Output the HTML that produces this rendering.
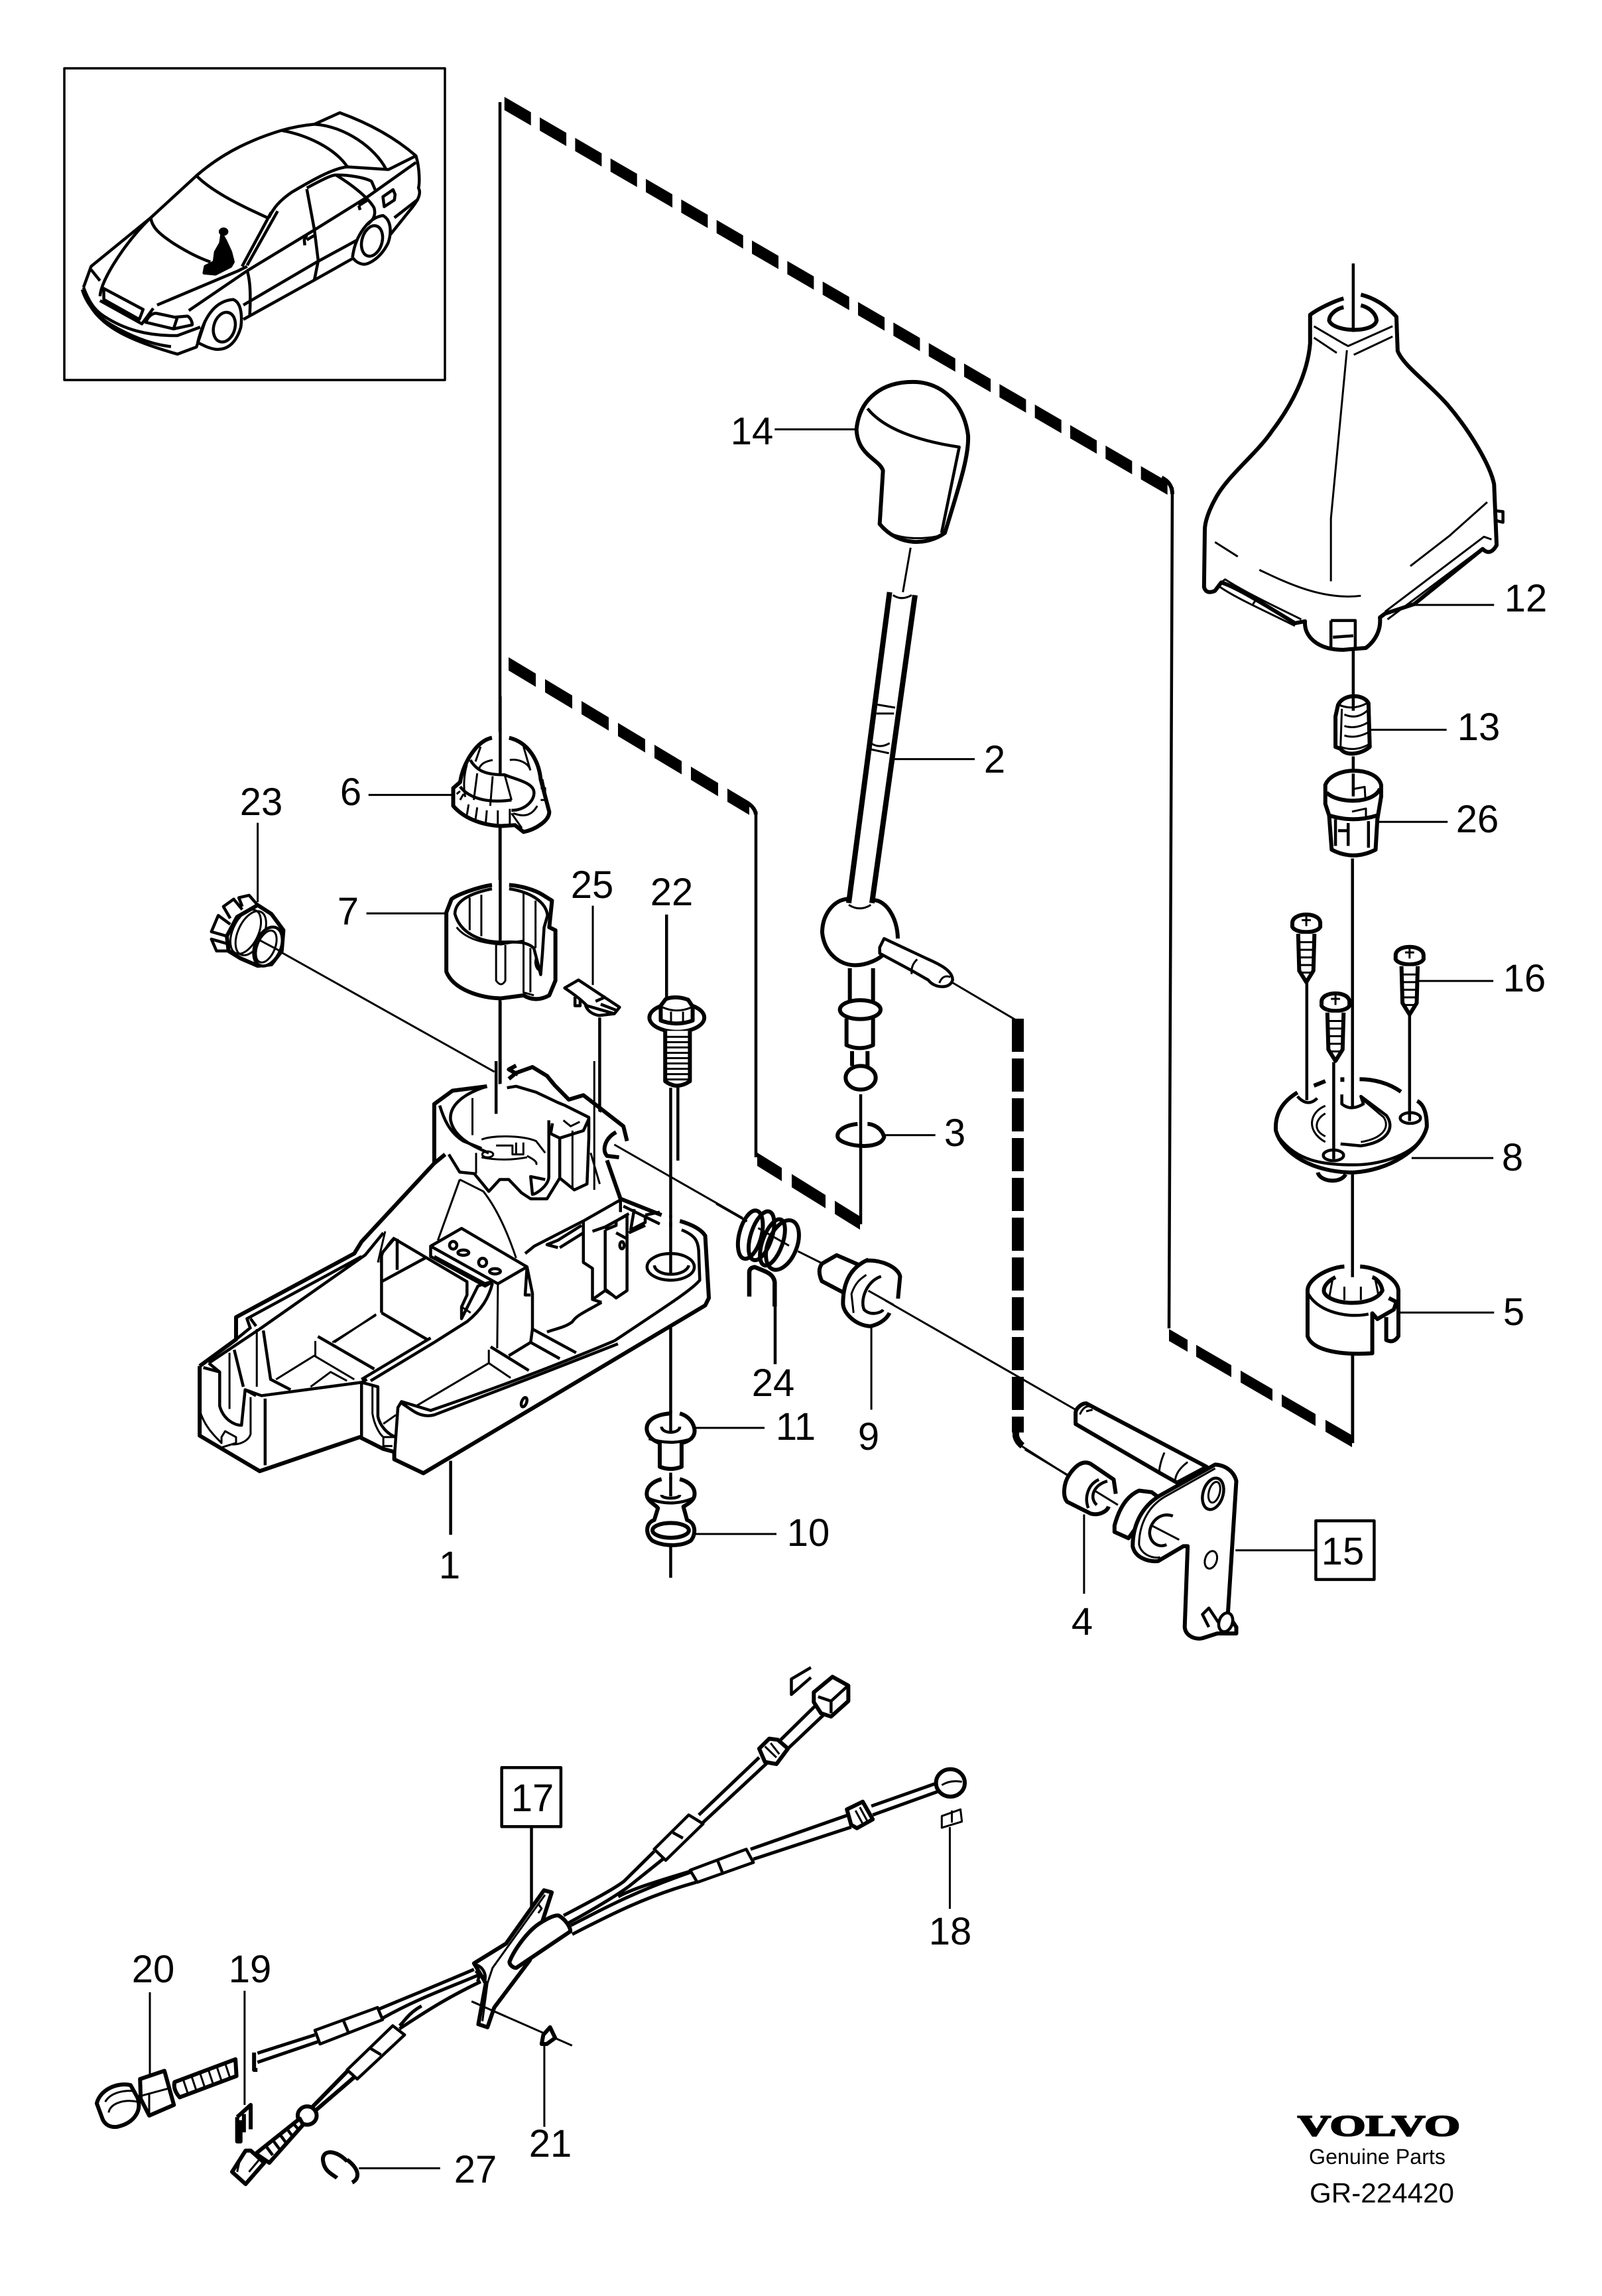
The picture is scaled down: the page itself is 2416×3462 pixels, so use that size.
<!DOCTYPE html>
<html><head><meta charset="utf-8"><style>
html,body{margin:0;padding:0;background:#fff}
svg{display:block}
svg *{vector-effect:non-scaling-stroke}
path,line,ellipse,rect{fill:none;stroke:#000;stroke-width:4.5;stroke-linejoin:round}
.t{stroke-width:3}
.k{stroke-width:6}
.w{fill:#fff}
.b{fill:#000}
svg .d{vector-effect:none;stroke-linejoin:miter}
text{font-family:"Liberation Sans",sans-serif;font-size:58px;fill:#000;text-anchor:middle}
</style></head><body>
<svg xmlns="http://www.w3.org/2000/svg" width="2416" height="3462" viewBox="0 0 2416 3462">
<rect x="0" y="0" width="2416" height="3462" style="fill:#fff;stroke:none"/>
<!-- inset frame -->
<rect x="97" y="103" width="574" height="470" style="stroke-width:3.5"/>
<!-- dashed lines -->
<path class="d" transform="matrix(1 .58 0 1 752 151)" d="M0 0 H1016" style="stroke-width:20;stroke-dasharray:40 13.33;stroke-dashoffset:44.6"/>
<path class="k" d="M1752 720 Q1768 728 1768 745"/>
<path class="d" transform="matrix(1 .6 0 1 752 992)" d="M0 0 H378" style="stroke-width:20;stroke-dasharray:41 14;stroke-dashoffset:40"/>
<path class="k" d="M1118 1206 Q1138 1214 1140 1228"/>
<path class="d" transform="matrix(1 .62 0 1 1142 1748)" d="M0 0 H155" style="stroke-width:20;stroke-dasharray:37 15 51 14 40 100"/>
<path class="d" style="stroke-width:18;stroke-dasharray:50 10" d="M1535 1536 L1535 2160"/>
<path class="k" style="stroke-width:10" d="M1532 2150 L1532 2165 Q1534 2174 1542 2180"/>
<path class="d" transform="matrix(1 .58 0 1 1763 2013)" d="M0 0 H276" style="stroke-width:18;stroke-dasharray:28 13 53 14 48 14 51 15 40 100"/>
<!-- thin frame lines -->
<path d="M754 154 L754 1679"/>
<path d="M1768 735 L1763 2003"/>
<path d="M1140 1223 L1140 1745"/>
<path d="M1298 1650 L1298 1846"/>
<path d="M2040 2040 L2040 2176"/>
<path class="t" d="M1540 2180 L1609 2224"/>
<path class="t" d="M1437 1482 L1532 1538"/>

<!-- car -->
<g transform="translate(80 80) scale(.3827 .3333)">
<path d="M120 1060 L150 965 L385 745 L565 555 C680 440 800 385 900 350 C960 330 1000 325 1030 322 L1130 270 C1250 320 1350 385 1430 465 L1322 527 L1160 515 C1100 520 1000 590 940 630 C890 670 870 700 850 745"/>
<path d="M385 745 C390 790 420 820 480 865 C530 900 570 925 620 945"/>
<path d="M565 555 C620 620 720 680 845 745"/>
<path d="M900 350 C1000 370 1110 430 1160 515"/>
<path d="M1030 322 C1150 330 1270 430 1312 525"/>
<path d="M860 720 L745 965 M885 715 L765 960"/>
<path d="M1000 610 C1050 580 1090 555 1110 552 C1170 550 1230 565 1255 580 L1270 620"/>
<path d="M1115 552 C1170 590 1240 650 1265 700 C1275 740 1255 760 1240 775"/>
<path d="M765 985 L1030 800 L1240 650 L1430 495"/>
<path d="M1000 615 L1030 800 L1045 940 L1030 1025"/>
<path d="M765 985 C780 1040 778 1120 775 1190"/>
<path d="M750 1140 L1040 945 L1200 845"/>
<path d="M750 1205 L1025 1030 L1180 930"/>
<path d="M410 1140 L730 985 L765 965"/>
<path d="M535 1165 L765 985"/>
<path d="M385 745 C290 850 190 1020 185 1100"/>
<path d="M150 980 L185 1030"/>
<path d="M120 1060 C140 1120 160 1160 200 1190 C280 1250 370 1280 490 1278 L580 1240"/>
<path d="M115 1070 C130 1130 170 1190 230 1230 C320 1290 400 1320 465 1328"/>
<path d="M150 1150 C200 1240 300 1300 490 1362 L565 1330 L600 1210"/>
<path d="M200 1065 L355 1160 L340 1205 L200 1115 Z"/>
<path d="M185 1120 L350 1225 L395 1155"/>
<path d="M365 1218 C380 1180 400 1175 410 1178 L480 1195 L530 1190 C545 1200 550 1225 548 1230 L475 1248 Z M490 1195 L475 1248"/>
<ellipse cx="675" cy="1240" rx="42" ry="68" transform="rotate(12 675 1240)"/>
<path d="M570 1310 C600 1170 650 1120 710 1115 C745 1130 745 1200 740 1240 C720 1320 680 1345 640 1340 C610 1335 590 1320 570 1310"/>
<ellipse cx="1257" cy="850" rx="40" ry="70" transform="rotate(12 1257 850)"/>
<path d="M1180 925 C1190 830 1240 745 1300 735 C1340 760 1330 830 1320 860 C1290 930 1240 960 1220 955 C1200 950 1190 940 1180 925"/>
<path d="M1430 465 C1445 520 1445 590 1440 610 C1455 640 1430 680 1400 720 L1330 820"/>
<path d="M1345 745 L1440 660"/>
<path d="M1000 845 L1030 825 M1000 825 L990 845 L992 870 M1205 690 L1240 665 M1205 690 L1210 710"/>
<path d="M1300 650 L1340 618 L1348 640 L1345 665 L1305 695 Z"/>
<ellipse class="b" cx="672" cy="808" rx="13" ry="12"/>
<path class="b" d="M665 820 L660 860 L640 900 L635 945 L600 965 L595 995 L640 1000 L700 965 L710 945 L700 900 L680 850 Z"/>
</g>

<!-- shift lever 14, 2, 3 -->
<g transform="translate(1100 500) scale(.3333 .8929)">
<path class="t" d="M205 165 L575 165 M745 722 L1110 722 M705 1357 L932 1357 M820 365 L785 440"/>
<path class="k w" d="M575 165 C590 110 700 85 830 85 C960 85 1060 120 1080 175 C1085 210 1040 260 975 340 C900 360 770 365 680 325 L695 235 C680 215 580 210 575 165 Z"/>
<path d="M625 130 C700 165 860 185 1040 195 L960 340"/>
<path class="t" d="M700 335 C760 350 860 352 950 345"/>
<path class="k" style="stroke-width:8" d="M725 440 L540 965 M840 445 L645 965"/>
<path class="t" d="M740 445 Q780 455 825 445 M670 630 L750 635 M665 645 L745 645 M640 695 Q680 705 725 695 M635 705 L722 712 M540 968 Q590 980 640 968"/>
<path class="k" d="M535 958 C470 960 420 985 420 1015 C430 1050 500 1070 570 1070 C620 1070 680 1060 700 1050"/>
<path class="k" d="M650 960 C710 960 760 990 762 1025"/>
<path class="w" d="M680 1040 L700 1025 L900 1060 C960 1070 1010 1080 1010 1095 C1000 1110 930 1110 900 1095 L830 1080 L680 1050 Z"/>
<path class="t" d="M850 1060 Q820 1070 825 1085 M950 1100 Q965 1085 1000 1090"/>
<path class="k" d="M545 1075 L545 1130 M650 1075 L650 1130"/>
<ellipse class="k w" cx="592" cy="1145" rx="92" ry="16"/>
<path class="k" d="M530 1160 L530 1205 Q590 1215 650 1205 L650 1160 M555 1215 L555 1240 M625 1215 L625 1240"/>
<ellipse class="k w" cx="594" cy="1260" rx="68" ry="20"/>
<path class="k" d="M580 1338 C520 1340 485 1350 490 1360 C500 1375 680 1385 700 1360 C690 1345 650 1338 625 1338"/>
</g>

<!-- shroud 12, 13, 26 -->
<g transform="translate(1750 380) scale(.3827 .574)">
<path class="k w" d="M722 122 C680 130 620 150 590 165 L590 240 C580 320 520 400 440 470 C380 530 260 590 215 650 C190 680 175 710 175 730 L172 880 Q180 900 215 890 L240 868 C300 880 420 930 530 975 L570 970 C565 1010 620 1045 720 1045 L810 1040 C850 1020 870 990 865 960 L885 950 L1000 925 L1270 780 Q1300 800 1325 770 L1315 610 C1300 560 1220 470 1130 400 C1050 340 960 300 935 260 L930 170 C890 140 840 120 790 112"/>
<rect x="726" y="100" width="60" height="40" style="fill:#fff;stroke:none"/>
<path class="k" d="M722 145 C690 150 665 165 665 180 C680 210 840 215 852 180 C850 160 820 145 790 140"/>
<path d="M760 30 L760 210"/>
<path class="t" d="M605 195 L720 240 L740 247 L915 195 M605 225 L695 265 M762 270 L915 222 M735 258 C710 430 690 580 672 700 L672 865"/>
<path class="t" d="M215 762 L305 800 M390 835 C500 870 640 915 790 903 M985 825 L1140 745 L1288 657"/>
<path class="t" d="M240 868 L255 860 C350 900 450 930 555 965 M380 910 L365 925 M885 945 L1275 748 L1305 755 M895 965 L1265 780 M235 880 C300 910 420 945 530 982"/>
<path d="M672 968 L768 968 L768 1040 M672 968 L672 1040 M680 1012 L760 1008 M1325 680 L1350 682 L1350 710 L1320 705"/>
<path class="t" d="M1000 927 L1315 927 M820 1255 L1128 1255 M855 1497 L1132 1497"/>
<path d="M760 1045 L760 1165 M760 1325 L760 1410"/>
<path class="k w" d="M700 1190 C720 1160 800 1160 820 1185 L825 1300 C790 1320 730 1325 710 1305 L690 1300 L690 1220 Z"/>
<path d="M760 1165 L760 1205"/>
<path class="t" d="M725 1215 C760 1225 790 1220 815 1205 M725 1245 Q770 1255 820 1235 M725 1270 Q770 1280 825 1260 M710 1300 Q770 1315 830 1290 M705 1190 Q760 1205 815 1185 M715 1200 L710 1300"/>
<path class="k w" d="M650 1400 C680 1350 850 1350 870 1400 L870 1430 L855 1490 L848 1570 Q760 1600 675 1570 L665 1480 L650 1450 Z"/>
<path d="M760 1370 L760 1430"/>
<path class="k" d="M655 1420 C700 1450 840 1450 865 1410 M665 1480 Q760 1500 855 1480"/>
<path class="t" d="M765 1410 L805 1405 L808 1440 M755 1470 L810 1462 L810 1490"/>
<path d="M690 1490 L690 1560 M740 1500 L740 1560 M700 1520 L740 1520 M820 1495 L820 1565"/>
</g>

<!-- screws, plate 8, ring 5 -->
<g transform="translate(1750 1280) scale(.3827 .574)">
<path d="M757 25 L757 680 M757 855 L757 1125 M757 1330 L757 1555"/>
<path d="M577 350 L577 660 M982 435 L982 700 M683 560 L683 800"/>
<path class="t" d="M990 812 L1312 812 M1020 347 L1312 347 M938 1218 L1315 1218"/>
<g transform="translate(575 195)">
<path class="k w" d="M-55 0 C-55 -30 55 -30 55 0 L55 10 C40 28 -40 28 -55 10 Z"/>
<path class="t" d="M-18 -8 H18 M0 -22 V8"/>
<path class="k w" d="M-32 28 L-28 125 L0 155 L28 125 L32 28"/>
<path class="t" d="M-30 50 H30 M-30 70 H30 M-30 90 H30 M-28 110 H28 M-22 130 H22"/>
</g>
<g transform="translate(982 280)">
<path class="k w" d="M-55 0 C-55 -30 55 -30 55 0 L55 10 C40 28 -40 28 -55 10 Z"/>
<path class="t" d="M-18 -8 H18 M0 -22 V8"/>
<path class="k w" d="M-32 28 L-28 125 L0 155 L28 125 L32 28"/>
<path class="t" d="M-30 50 H30 M-30 70 H30 M-30 90 H30 M-28 110 H28 M-22 130 H22"/>
</g>
<g transform="translate(690 402)">
<path class="k w" d="M-55 0 C-55 -30 55 -30 55 0 L55 10 C40 28 -40 28 -55 10 Z"/>
<path class="t" d="M-18 -8 H18 M0 -22 V8"/>
<path class="k w" d="M-32 28 L-28 125 L0 155 L28 125 L32 28"/>
<path class="t" d="M-30 50 H30 M-30 70 H30 M-30 90 H30 M-28 110 H28 M-22 130 H22"/>
</g>
<path class="k" d="M540 640 C490 660 450 690 455 740 C480 800 600 850 760 850 C900 845 1030 790 1050 730 C1050 690 1035 670 1012 662"/>
<path d="M470 760 C540 820 640 830 760 830 C850 830 980 810 1030 760"/>
<path class="k" d="M605 622 L650 610 M785 605 C840 605 900 615 948 638 M717 600 V612"/>
<path d="M540 650 Q580 680 618 655"/>
<ellipse cx="985" cy="707" rx="40" ry="14"/>
<ellipse class="w" cx="682" cy="805" rx="40" ry="14"/>
<path d="M683 790 L683 815 M982 695 L982 715"/>
<path d="M715 645 L715 670 Q750 690 800 670 L790 650 L890 700 C925 730 900 770 790 780 L710 775"/>
<path class="t" d="M650 675 C590 690 570 740 650 770 M650 695 C610 710 600 740 650 755 M800 660 L880 705 C905 730 880 760 790 770"/>
<path class="k" d="M620 850 C630 875 710 880 730 855"/>
<path class="k" d="M725 1097 C660 1100 580 1130 580 1160 L580 1280 C600 1320 720 1330 835 1325 L835 1220 L855 1235 L920 1210 L930 1190 L900 1180"/>
<path class="k" d="M787 1097 C860 1100 935 1130 938 1160 L938 1280 Q920 1300 890 1290 L890 1230"/>
<path d="M580 1165 C610 1210 720 1235 820 1222"/>
<path class="k" d="M690 1125 C660 1135 640 1150 645 1165 C670 1200 840 1205 875 1160 C870 1140 850 1128 835 1125"/>
<path class="t" d="M665 1180 L680 1125 M845 1125 L860 1175 M725 1150 V1185 M790 1150 V1185"/>
</g>

<!-- parts 6, 7, 23, 25, 22 -->
<g transform="translate(280 1050) scale(.5173 .4464)">
<path class="t" d="M533 333 L778 333 M527 733 L760 733 M210 427 L210 695 M218 825 L900 1268 M1187 707 L1187 975"/>
<path d="M1402 737 L1402 1015 M1207 1085 L1207 1568 M1435 1320 L1435 1568"/>
<path class="k w" d="M893 140 C850 150 810 220 800 290 L780 310 L780 370 C810 410 860 435 920 438 L960 435 L985 458 C1020 450 1060 420 1060 390 L1035 280 C1030 220 1000 155 943 140"/>
<rect x="895" y="120" width="46" height="40" style="fill:#fff;stroke:none"/>
<path d="M917 0 L917 265"/>
<path d="M830 215 C850 255 880 265 930 265 C960 280 1010 290 1015 320 C1020 350 990 385 950 385 M800 305 C830 350 890 360 950 350"/>
<path class="t" d="M820 230 C810 270 810 310 815 340 M860 170 L845 220 M895 215 C870 220 860 230 855 245 M945 215 C970 210 1000 225 1005 250 M850 260 L840 350 M895 270 L888 370 M930 265 L950 350 M985 170 L1005 250 M800 320 L790 330 M800 350 L810 330 M825 365 L820 400 M850 375 L845 415 M878 385 L875 425 M910 385 V430 M945 380 V430 M950 395 L980 445 M1040 280 L1060 390 M1035 310 L1048 310 L1048 350 L1035 350 M955 395 C990 410 1010 400 1025 370"/>
<path class="k w" d="M893 637 C850 645 790 670 775 685 L760 730 L760 930 C780 990 860 1020 920 1020 L985 1010 Q1020 1035 1060 1010 L1078 960 V790 L1060 780 L1068 690 L1040 670 C1020 655 980 640 943 637"/>
<rect x="895" y="620" width="46" height="40" style="fill:#fff;stroke:none"/>
<path d="M917 440 L917 825"/>
<path d="M893 650 C830 665 785 690 785 735 C800 800 860 830 920 830 C960 830 990 825 1015 850 L1035 940 L1040 870 L1045 780 L1055 740 C1050 690 1000 660 943 650"/>
<path class="t" d="M790 780 C820 825 880 835 920 838 L985 825 M905 840 V960 Q920 985 932 960 V840 M828 680 V790 M862 670 V810 M985 665 V830 M1020 690 V850 M985 830 V1000 L1015 1010 M1005 850 V1000 M1025 880 C1015 890 1020 920 1030 925"/>
<path d="M917 1030 L917 1410"/>
<path d="M120 810 L75 795 L95 740 L130 770 M130 750 L110 710 L140 685 L165 720 M165 710 L155 680 L185 672 L210 705 M120 835 L75 820 L90 860 L130 860"/>
<path class="k w" d="M210 705 L250 735 L285 790 L280 860 L250 905 L210 910 L160 885 L125 860 L120 810 L150 745 Z"/>
<ellipse class="t" cx="175" cy="795" rx="38" ry="78" transform="rotate(20 175 795)"/>
<ellipse class="t" cx="190" cy="800" rx="38" ry="78" transform="rotate(20 190 800)"/>
<ellipse class="w" cx="240" cy="845" rx="38" ry="68" transform="rotate(18 240 845)"/>
<ellipse class="t" cx="235" cy="845" rx="26" ry="56" transform="rotate(18 235 845)"/>
<path class="t" d="M218 825 L275 860"/>
<path class="w" d="M1105 985 L1145 958 L1265 1050 L1250 1072 L1170 1045 Q1150 1020 1105 985 Z"/>
<path d="M1135 1015 V1045 H1150 V1025 M1165 1040 C1170 1065 1190 1075 1205 1078 L1250 1072 M1195 1030 L1225 1015 M1210 1040 L1255 1060"/>
<ellipse class="k w" cx="1432" cy="1085" rx="80" ry="48"/>
<path class="k w" d="M1385 1045 L1400 1022 Q1432 1010 1465 1025 L1478 1048 L1478 1095 Q1432 1115 1385 1095 Z"/>
<path class="t" d="M1390 1050 Q1432 1072 1475 1050 M1415 1065 V1110 M1450 1065 V1110"/>
<path class="k w" d="M1398 1130 V1300 Q1432 1330 1470 1300 V1130"/>
<path class="t" d="M1398 1150 H1470 M1398 1168 H1470 M1398 1186 H1470 M1398 1204 H1470 M1398 1222 H1470 M1398 1240 H1470 M1398 1258 H1470 M1398 1276 H1470 M1398 1294 H1470"/>
</g>

<!-- housing 1, 11, 10 -->
<g transform="translate(260 1600) scale(.5485 .4464)">
<path class="t w" style="stroke:none" d="M75 1030 L175 940 L175 865 L500 650 L520 610 L720 345 L720 145 L770 100 L1000 60 L1250 220 L1230 465 L1395 540 L1465 590 L1475 800 L1465 825 L690 1392 L610 1345 L580 1310 L515 1270 L240 1385 L75 1265 Z"/>
<path d="M890 0 L890 178"/>
<path class="k" d="M75 1030 L75 1265 L240 1385 L515 1270 L580 1310 L610 1320 L610 1345 L690 1392 L1465 825 L1475 800 L1465 590 Q1450 560 1395 540"/>
<path class="k" d="M75 1030 L175 940 L175 865 L500 650 L520 610 L720 345 L720 145 L770 100 L865 85"/>
<path d="M735 150 C745 190 760 240 800 270 L850 295 M865 85 C800 110 760 150 765 200 C775 260 830 290 870 310"/>
<path class="k" d="M925 60 L945 40 L990 20 L1030 50 L1050 80 L1090 130 L1130 115 L1240 220 L1250 270 M945 15 L925 28 L950 45"/>
<path d="M920 90 L945 85 L1000 105 L1060 140 L1080 150 L1145 190 L1145 260 M1035 200 L1035 390 C1035 420 1000 450 990 450 L985 390 L1025 400"/>
<path d="M1045 210 L1040 245 L1065 260 L1130 235 L1145 195 M1065 260 L1065 395 L1105 435 L1140 415 L1145 260"/>
<path class="t" d="M1100 235 L1100 430 M1075 200 L1095 220 L1120 205 M850 265 C880 250 960 250 1000 270 L1025 310 M835 310 V380 M975 320 C990 330 1005 340 1000 350 M890 285 L935 285 V315 H965 V275 M945 275 V315 M850 325 Q910 340 975 325 M825 125 V250"/>
<ellipse class="t" cx="867" cy="315" rx="15" ry="10"/>
<path d="M760 315 L790 375 L830 380 L870 440 L900 400 L925 400 L960 445 L985 465 L1030 465 L1065 395"/>
<path class="k" d="M720 345 L750 315"/>
<path class="t" d="M790 400 L730 605 M790 400 L855 440 C900 510 930 610 945 665"/>
<path d="M710 625 L795 565 L975 695 L895 752 Z M710 625 L710 660 L860 760 L880 745 M720 660 L860 752"/>
<ellipse cx="772" cy="622" rx="10" ry="13"/><ellipse cx="800" cy="647" rx="15" ry="9"/><ellipse cx="853" cy="680" rx="11" ry="14"/><ellipse cx="887" cy="710" rx="15" ry="9"/>
<path class="t" d="M895 752 L893 970"/>
<path d="M975 695 L990 785 V905 M975 695 L970 790 H985"/>
<path d="M970 650 L995 625 L1130 540 V680 L1155 700 L1155 805 L1180 815 M1130 540 L1230 470 M1060 630 L1030 620 L1060 605 L1125 555 M1065 630 L1130 580"/>
<path d="M1155 575 L1190 560 L1250 520 L1250 775 L1220 800 L1190 770 V570 M1190 570 L1220 555 V540 L1255 515 M1220 580 L1250 600 M1210 790 L1190 775 L1155 805"/>
<ellipse cx="1236" cy="622" rx="6" ry="12"/>
<path d="M1180 815 C1130 850 1110 860 1100 880 C1080 900 1050 905 1030 915 M990 905 L1110 985"/>
<path class="k" d="M1195 335 L1232 465 L1345 520"/>
<path d="M1232 465 V510 M1240 490 L1340 550 M1270 500 L1260 570 L1300 545 V520 M1255 580 L1300 555 M1300 520 L1340 510"/>
<path class="k" d="M1220 240 C1190 260 1180 300 1195 320 L1228 325"/>
<path class="t" d="M1215 282 L1568 530 M1160 0 L1160 435 M1150 310 L1175 415"/>
<path d="M1400 570 C1440 590 1445 610 1447 640 L1450 740 C1430 770 1380 810 1215 945"/>
<ellipse cx="1370" cy="695" rx="65" ry="45"/>
<path d="M1325 690 C1330 730 1410 730 1420 690"/>
<path d="M1215 945 C1050 1030 900 1100 710 1180 L670 1165 L630 1150 L620 1170 L610 1345"/>
<path d="M1225 955 C1050 1040 900 1110 720 1195 Q690 1205 660 1180 L630 1155"/>
<path d="M875 965 L980 1045 M925 995 L985 950 L990 905 M985 950 L1065 1005"/>
<path class="t" d="M870 975 V1020 L930 1070 M870 1020 L670 1165"/>
<path d="M575 850 V650 L610 600 L810 745 L810 790 L795 830 V870 L840 760 Q860 750 880 745"/>
<path d="M575 745 L695 665 M618 600 V705 M575 850 L700 940"/>
<path class="t" d="M610 595 C590 620 575 650 572 680 M585 575 L565 680 M795 830 L820 850 M560 855 L445 950"/>
<path d="M100 1020 L240 905 L530 655 L580 580 M215 905 L205 870 L520 660 M230 895 L215 870 M175 940 L215 900"/>
<path d="M520 1075 L710 935 M545 1080 L720 950 L810 880 C850 840 870 800 880 750"/>
<path d="M250 910 L270 1075 L325 1110"/>
<path class="t" d="M285 1075 L390 995 L500 1075 M393 945 V995 M440 950 L560 858 M380 1100 L435 1050 L480 1080"/>
<path d="M400 930 L555 1040"/>
<path d="M100 1020 L130 1050 V1165 C140 1210 170 1230 190 1230 L200 1110 L230 1130 M85 1035 L130 1050 M170 975 L195 1100 M200 1110 L245 1130 L520 1085 L535 1075"/>
<path class="t" d="M157 985 V1175 M75 1180 C90 1240 120 1270 135 1290 V1270 L145 1250 L175 1270 V1290 L135 1305 M215 1135 V1260 C210 1280 190 1295 165 1295 M232 905 V1100"/>
<path d="M255 1140 V1365 M520 1085 V1270 M520 1085 L565 1100 V1200 C570 1230 590 1260 615 1270"/>
<path class="t" d="M550 1100 V1190 C555 1230 570 1260 580 1270 V1310 M580 1225 L615 1195 M580 1270 H615 M605 1300 H580"/>
<ellipse cx="967" cy="1152" rx="7" ry="16" transform="rotate(15 967 1152)"/>
<path d="M1370 90 L1370 720 M1370 900 L1370 1250 M1370 1390 L1370 1480 M1370 1640 L1370 1745 M765 1350 L765 1600"/>
<rect x="1340" y="530" width="55" height="15" style="fill:#fff;stroke:none"/>
<path d="M1370 520 L1370 560"/>
<path class="k w" d="M1368 1190 C1320 1195 1300 1220 1305 1250 C1310 1275 1330 1285 1340 1290 V1370 Q1370 1385 1400 1370 V1290 C1420 1285 1440 1270 1435 1240 C1430 1210 1410 1195 1395 1190"/>
<path d="M1345 1235 C1345 1260 1395 1260 1395 1235 M1370 1180 L1370 1250 M1310 1275 Q1370 1300 1430 1275"/>
<path class="k w" d="M1345 1412 C1320 1420 1300 1440 1305 1470 C1310 1490 1330 1500 1335 1510 L1325 1550 C1300 1560 1300 1600 1320 1620 C1350 1640 1400 1640 1425 1620 C1440 1600 1440 1560 1415 1550 L1405 1505 C1410 1500 1430 1490 1435 1470 C1440 1440 1420 1420 1395 1412"/>
<path d="M1345 1465 C1345 1480 1395 1480 1395 1465 M1305 1475 Q1370 1510 1435 1475 M1370 1405 L1370 1470"/>
<ellipse class="k" cx="1370" cy="1585" rx="50" ry="25"/>
</g>
<path class="t" d="M1049 2153 L1153 2153 M1049 2313 L1171 2313"/>

<!-- spring 24 -->
<g transform="translate(1080 1790) scale(.3333)">
<path class="t" d="M0 75 L140 155 M370 290 L480 345"/>
<ellipse class="k" cx="155" cy="215" rx="50" ry="112" transform="rotate(15 155 215)"/>
<ellipse class="k" cx="205" cy="220" rx="48" ry="115" transform="rotate(18 205 220)"/>
<ellipse class="k" cx="255" cy="250" rx="45" ry="110" transform="rotate(20 255 250)"/>
<ellipse class="k" cx="300" cy="262" rx="65" ry="118" transform="rotate(22 300 262)"/>
<path class="t" d="M190 185 L330 265"/>
<path class="k" style="stroke-width:6.5" d="M150 495 V385 Q150 365 175 362 C220 380 260 390 265 430 V540"/>
</g>
<path d="M1169 1965 L1169 2057"/>

<!-- 9, 4, lever 15 -->
<g transform="translate(1080 1750) scale(.6378 .4785)">
<path class="t" d="M360 410 L850 785 M730 910 L830 990"/>
<path class="t" d="M367 525 L367 785 M870 1115 L870 1365 M1228 1228 L1418 1228"/>
<path class="k w" d="M250 325 L285 298 L340 330 L300 415 L250 380 C240 350 245 335 250 325 Z"/>
<path class="k w" d="M360 312 C310 340 300 400 300 450 C300 480 330 520 365 522 C390 515 405 495 410 480"/>
<path class="k" d="M355 315 C390 312 430 335 435 365 L430 435"/>
<path d="M390 365 C355 380 340 440 350 470 C365 490 390 480 395 470"/>
<path class="t" d="M355 360 C345 370 330 380 320 420 L325 480 M360 410 L420 455"/>
<path class="k w" d="M875 765 L1160 965 L1090 1015 L1050 985 L850 830 L850 795 C850 780 865 765 875 765 Z"/>
<path class="t" d="M875 790 L890 785 M860 800 Q870 770 885 775 M1060 920 C1050 950 1045 985 1050 985 M1115 950 C1095 970 1085 990 1085 1015"/>
<path class="k w" d="M835 990 C820 1020 820 1060 830 1075 L885 1112 C905 1120 925 1105 928 1090 M835 990 Q860 940 885 955 L940 1005 L945 1050"/>
<path d="M905 1005 C880 1020 870 1060 880 1095 M925 1010 C895 1020 880 1060 900 1085"/>
<path class="t" d="M895 1040 L950 1085"/>
<path class="k w" d="M1000 1040 C965 1060 950 1110 942 1150 L942 1170 L975 1190 L1045 1060 L1030 1045 Z"/>
<path class="k w" d="M1180 958 L1050 1055 C1000 1095 985 1160 985 1215 C990 1250 1020 1265 1045 1262 L1105 1215 L1115 1215 L1108 1470 C1110 1500 1135 1510 1150 1505 L1185 1490 L1230 1490 L1230 1470 L1210 1430 L1230 1010 C1225 980 1205 960 1180 958 Z"/>
<path class="t" d="M1180 970 L1060 1060 C1010 1100 1000 1170 1000 1210 C1005 1240 1030 1255 1050 1250"/>
<ellipse cx="1175" cy="1050" rx="24" ry="50" transform="rotate(10 1175 1050)"/>
<ellipse class="t" cx="1178" cy="1045" rx="13" ry="33" transform="rotate(10 1178 1045)"/>
<path d="M1080 1120 C1050 1105 1025 1140 1025 1175 C1028 1210 1050 1220 1065 1210"/>
<path class="t" d="M1030 1150 L1095 1195"/>
<ellipse class="t" cx="1170" cy="1258" rx="14" ry="28" transform="rotate(10 1170 1258)"/>
<path d="M1190 1460 L1165 1410 L1150 1430 L1165 1470"/>
<ellipse class="w" cx="1205" cy="1455" rx="16" ry="30" transform="rotate(10 1205 1455)"/>
<rect x="1418" y="1135" width="138" height="185"/>
</g>

<!-- cable left -->
<g transform="translate(100 2600) scale(.5102 .4591)">
<path class="t" d="M247 880 L247 1150 M527 875 L527 1250 M865 1458 L1105 1458 M1198 910 L1495 1055 M1413 1050 L1413 1322"/>
<path d="M1375 340 L1375 600"/>
<rect x="1287" y="142" width="175" height="194"/>
<path class="k w" d="M1412 545 L1300 720 L1205 785 L1240 850 L1218 985 L1245 995 L1265 930 L1370 775 L1435 552 Z"/>
<path class="t" d="M1415 560 L1260 800 L1245 850 L1230 975 M1395 590 L1405 605 L1395 620 M1198 910 L1300 960"/>
<path class="k w" d="M1380 670 C1400 650 1440 625 1455 628 C1475 640 1490 665 1490 680 L1370 770 L1330 800 C1320 800 1310 790 1310 780 C1320 750 1350 700 1380 670 Z"/>
<path d="M1210 790 C1230 795 1245 820 1235 850 M1210 810 Q1225 825 1215 845"/>
<path class="k" style="stroke-width:5" d="M1205 805 C1100 855 1000 900 925 935 M1215 825 C1120 870 1040 900 935 965 M1225 845 C1140 890 1080 930 985 1000 M1050 925 C1010 950 1000 975 985 990"/>
<path class="w" d="M735 1005 L920 930 L935 970 L750 1050 Z"/>
<path d="M820 975 L835 1015"/>
<path class="k" style="stroke-width:5" d="M735 1020 L565 1080 M750 1040 L565 1110"/>
<path class="k" d="M555 1078 V1135 H565"/>
<path class="w" d="M965 990 L1000 1020 L860 1165 L830 1135 Z"/>
<path d="M900 1065 L930 1085"/>
<path class="k" d="M830 1140 L720 1265 M850 1160 L735 1270"/>
<ellipse class="k w" cx="712" cy="1285" rx="28" ry="30"/>
<path class="k w" d="M690 1295 L560 1410 L600 1440 L700 1315 Z"/>
<path d="M670 1310 L690 1335 M650 1325 L670 1355 M630 1345 L650 1375 M610 1365 L630 1395 M590 1385 L610 1415"/>
<path class="k w" d="M530 1400 L490 1470 L530 1510 L585 1440 L545 1400 Z"/>
<path class="t" d="M515 1420 L505 1470 M540 1470 L570 1430"/>
<path class="k w" d="M90 1245 C100 1200 150 1175 190 1185 L210 1225 C225 1270 200 1310 150 1322 C125 1325 110 1310 105 1290 Z"/>
<path class="t" d="M115 1240 C130 1210 170 1200 205 1205 M125 1275 C130 1245 170 1230 212 1240"/>
<path class="k w" d="M218 1165 L290 1138 L318 1250 L245 1285 L220 1230 Z"/>
<path class="t" d="M222 1220 L305 1195 L290 1140 M245 1215 V1280"/>
<path class="k w" d="M320 1175 L500 1100 L503 1155 L335 1225 Q315 1200 320 1175 Z"/>
<path class="t" d="M345 1165 L360 1215 M370 1155 L385 1205 M395 1145 L410 1195 M420 1135 L435 1185 M445 1125 L460 1175 M470 1115 L485 1165"/>
<path class="k" d="M505 1290 L545 1250 V1330 M505 1290 V1370 H515 L515 1300 M525 1280 V1340"/>
<path class="k" d="M830 1435 C790 1390 750 1400 760 1440 C765 1470 790 1480 800 1490 M845 1505 C870 1490 865 1460 830 1430"/>
<path class="k w" d="M1405 1050 L1410 1020 L1430 995 L1445 1030 L1420 1050 Z"/>
</g>

<!-- cable right -->
<g transform="translate(850 2480) scale(.4337 .3333)">
<path d="M1343 825 L1343 1195" class="t"/>
<path class="k" style="stroke-width:5" d="M0 1225 C80 1170 170 1110 210 1070 L315 935 M15 1260 C100 1200 190 1130 230 1090 L350 965"/>
<path class="w" d="M315 925 L435 770 L485 810 L355 975 Z"/>
<path d="M380 850 L415 875"/>
<path class="k" style="stroke-width:5" d="M470 770 L680 510 M480 810 L720 520"/>
<path class="k w" d="M680 470 L715 425 L745 430 L780 470 L740 540 L700 530 Z"/>
<path class="t" d="M700 460 L740 510 M720 445 L750 495"/>
<path class="k" style="stroke-width:5" d="M755 430 L880 270 M780 470 L910 310"/>
<path class="k w" d="M870 215 L935 145 L990 185 V255 L930 325 L895 310 L870 260 Z"/>
<path d="M885 235 L930 255 L985 190 M930 255 V310"/>
<path d="M860 103 L792 155 V225 L860 148"/>
<path class="k" style="stroke-width:5" d="M25 1270 C130 1200 240 1120 440 1030 M30 1310 C150 1230 280 1140 460 1075 M190 1140 C230 1110 300 1080 440 1025"/>
<path class="w" d="M440 1020 L635 925 L660 985 L465 1075 Z"/>
<path d="M535 975 L555 1040"/>
<path class="k" style="stroke-width:5" d="M650 925 L990 770 M660 970 L1000 825"/>
<path class="k w" d="M985 745 L1040 710 L1075 790 L1020 830 L1000 815 Z"/>
<path class="t" d="M1015 750 L1040 810 M1030 735 L1055 795"/>
<path class="k" style="stroke-width:5" d="M1070 730 L1300 625 M1075 770 L1310 660"/>
<ellipse class="k w" cx="1345" cy="625" rx="50" ry="62"/>
<path class="t" d="M1315 635 Q1345 610 1385 620"/>
<path class="t" d="M1315 775 L1380 745 L1385 800 L1315 828 Z M1350 750 V805"/>
</g>

<!-- labels -->
<text x="394" y="1229">23</text>
<text x="529" y="1214">6</text>
<text x="525" y="1394">7</text>
<text x="893" y="1354">25</text>
<text x="1013" y="1365">22</text>
<text x="1134" y="670">14</text>
<text x="1500" y="1165">2</text>
<text x="1440" y="1728">3</text>
<text x="2301" y="922">12</text>
<text x="2230" y="1116">13</text>
<text x="2228" y="1255">26</text>
<text x="2299" y="1495">16</text>
<text x="2281" y="1765">8</text>
<text x="2283" y="1998">5</text>
<text x="1166" y="2105">24</text>
<text x="1310" y="2186">9</text>
<text x="1200" y="2171">11</text>
<text x="1219" y="2331">10</text>
<text x="1632" y="2465">4</text>
<text x="2025" y="2359">15</text>
<text x="678" y="2380">1</text>
<text x="803" y="2731">17</text>
<text x="231" y="2989">20</text>
<text x="377" y="2989">19</text>
<text x="830" y="3252">21</text>
<text x="717" y="3291">27</text>
<text x="1433" y="2932">18</text>
<text x="1957" y="3220" textLength="245" lengthAdjust="spacingAndGlyphs" style="font-family:'Liberation Serif',serif;font-weight:bold;font-size:44px;text-anchor:start;stroke:#000;stroke-width:2">VOLVO</text>
<text x="1974" y="3263" textLength="206" lengthAdjust="spacingAndGlyphs" style="font-size:32px;text-anchor:start">Genuine Parts</text>
<text x="1975" y="3321" textLength="218" lengthAdjust="spacingAndGlyphs" style="font-size:42px;text-anchor:start">GR-224420</text>
</svg>
</body></html>
